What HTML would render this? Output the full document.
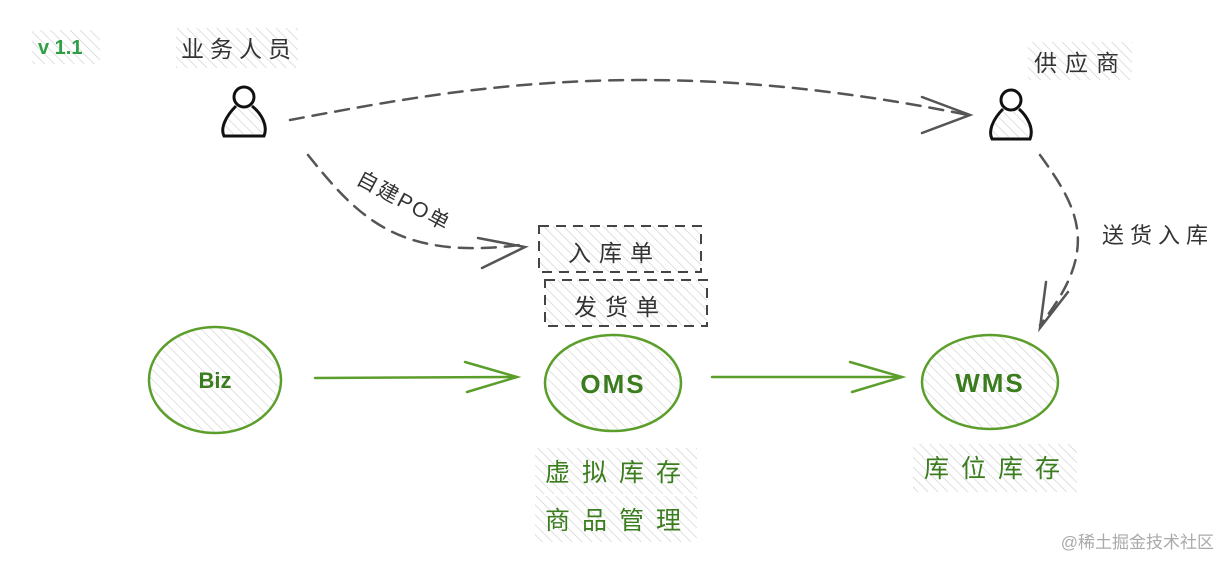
<!DOCTYPE html>
<html><head><meta charset="utf-8">
<style>
html,body{margin:0;padding:0;background:#fff;}
svg{display:block;}
text{font-family:"Liberation Sans","Noto Sans CJK SC",sans-serif;}
</style></head>
<body>
<svg width="1230" height="566" viewBox="0 0 1230 566" xmlns="http://www.w3.org/2000/svg">
<defs>
<pattern id="h" width="7" height="7" patternUnits="userSpaceOnUse" patternTransform="rotate(-45)">
<line x1="0" y1="0" x2="0" y2="7" stroke="#cfcfcf" stroke-width="1.3"/>
</pattern>
<pattern id="hg" width="7" height="7" patternUnits="userSpaceOnUse" patternTransform="rotate(-45)">
<line x1="0" y1="0" x2="0" y2="7" stroke="#d2d2d2" stroke-width="1.3"/>
</pattern>
</defs>
<rect width="1230" height="566" fill="#fff"/>

<rect x="32" y="30" width="68" height="34" fill="url(#h)"/>
<rect x="176" y="28" width="122" height="40" fill="url(#h)"/>
<rect x="1028" y="42" width="104" height="38" fill="url(#h)"/>
<rect x="535" y="448" width="162" height="46" fill="url(#h)"/>
<rect x="535" y="496" width="162" height="46" fill="url(#h)"/>
<rect x="913" y="444" width="164" height="48" fill="url(#h)"/>

<text x="38" y="54" font-size="20" fill="#2f9e44" font-weight="bold">v 1.1</text>
<text x="181" y="57" font-size="23" fill="#333" letter-spacing="6">业务人员</text>
<text x="1034" y="71" font-size="23" fill="#333" letter-spacing="8">供应商</text>

<g fill="none" stroke="#111" stroke-width="3">
<circle cx="244" cy="97" r="10"/>
<path d="M236 106 C226 116 220 128 224 136 L264 136 C268 126 262 114 252 106"/>
<circle cx="1011" cy="100" r="10"/>
<path d="M1003 109 C993 119 988 131 992 139 L1030 139 C1034 129 1028 117 1019 109"/>
</g>
<g fill="url(#h)" stroke="none">
<path d="M236 108 C227 117 222 127 226 134 L262 134 C265 126 260 116 252 108Z"/>
<path d="M1003 111 C994 120 990 130 994 137 L1028 137 C1031 129 1027 119 1019 111Z"/>
</g>

<g fill="none" stroke="#555" stroke-width="2.5" stroke-dasharray="14 9" stroke-linecap="round">
<path d="M290 120 C450 90 650 50 968 115"/>
<path d="M308 155 C360 220 400 260 520 245"/>
<path d="M1040 155 C1080 210 1100 250 1040 325"/>
</g>
<g fill="none" stroke="#555" stroke-width="2.5" stroke-linecap="round">
<path d="M922 97 L970 115 L922 133"/>
<path d="M478 238 L525 247 L482 268"/>
<path d="M1046 282 L1040 328 L1068 292"/>
</g>
<text x="0" y="0" font-size="21" fill="#333" letter-spacing="2" transform="translate(355,183) rotate(28)">自建PO单</text>
<text x="1102" y="243" font-size="22" fill="#333" letter-spacing="6">送货入库</text>

<g stroke="#444" stroke-width="2" stroke-dasharray="10 7" fill="url(#h)">
<rect x="539" y="226" width="162" height="46"/>
<rect x="545" y="280" width="162" height="46"/>
</g>
<text x="568" y="261" font-size="23" fill="#333" letter-spacing="8">入库单</text>
<text x="574" y="315" font-size="23" fill="#333" letter-spacing="8">发货单</text>

<g stroke="#5c9e2b" stroke-width="2.5" fill="url(#hg)">
<ellipse cx="215" cy="380" rx="66" ry="53"/>
<ellipse cx="613" cy="383" rx="68" ry="48"/>
<ellipse cx="990" cy="382" rx="68" ry="47"/>
</g>
<text x="215" y="388" font-size="22" fill="#3b7d1e" text-anchor="middle" font-weight="bold">Biz</text>
<text x="613" y="393" font-size="26" fill="#3b7d1e" text-anchor="middle" font-weight="bold" letter-spacing="2">OMS</text>
<text x="990" y="392" font-size="26" fill="#3b7d1e" text-anchor="middle" font-weight="bold" letter-spacing="2">WMS</text>

<g fill="none" stroke="#5c9e2b" stroke-width="2.5" stroke-linecap="round">
<path d="M315 378 L515 377"/>
<path d="M465 362 L517 377 L467 392"/>
<path d="M712 377 L900 377"/>
<path d="M850 362 L902 377 L852 392"/>
</g>

<text x="545" y="481" font-size="25" fill="#3b7d1e" letter-spacing="12">虚拟库存</text>
<text x="545" y="529" font-size="25" fill="#3b7d1e" letter-spacing="12">商品管理</text>
<text x="924" y="477" font-size="25" fill="#3b7d1e" letter-spacing="12">库位库存</text>

<text x="1214" y="548" font-size="17" fill="#aaa" text-anchor="end">@稀土掘金技术社区</text>
</svg>
</body></html>
